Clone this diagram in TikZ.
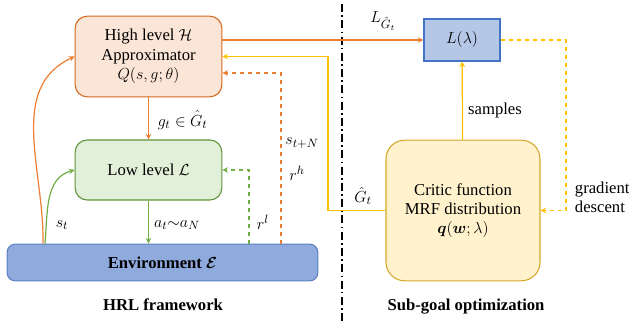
\documentclass[tikz,border=0pt]{standalone}
\usepackage{fontspec}
\setmainfont{Liberation Serif}
\usepackage{bm}
\usetikzlibrary{positioning,arrows}
\definecolor{hiFill}{HTML}{FBE5D6}
\definecolor{hiLine}{HTML}{D2691E}
\definecolor{orLine}{HTML}{ED7D31}
\definecolor{loFill}{HTML}{E2F0D9}
\definecolor{grLine}{HTML}{70AD47}
\definecolor{envFill}{HTML}{8FAADC}
\definecolor{envLine}{HTML}{5B7FC0}
\definecolor{lamFill}{HTML}{B4C7E7}
\definecolor{lamLine}{HTML}{4472C4}
\definecolor{crFill}{HTML}{FFF2CC}
\definecolor{crLine}{HTML}{D4A72C}
\definecolor{yeLine}{HTML}{FFC000}

\begin{document}
\begin{tikzpicture}[x=0.75pt,y=-0.75pt,
    ->,
    >=stealth,
    font=\fontsize{12.5}{14.5}\selectfont,
    bb/.style={%
      rectangle, thick, align=center, inner sep=2pt
    },
    lbl/.style={%
      draw=none, inner sep=0.5pt
    },
    conn/.style={line width=0.9pt}
]
    \useasboundingbox (0,0) rectangle (629,324);

    % HRL side
    \node[bb, draw=hiLine, fill=hiFill, rounded corners=9pt,
          minimum width=110pt, minimum height=60.5pt] (1) at (148.5,56.5)
          {High level $\mathcal{H}$\\Approximator\\$Q(s,g;\theta)$};
    \node[bb, draw=grLine!85!black, fill=loFill, rounded corners=9pt,
          minimum width=110pt, minimum height=45pt] (2) at (148.5,170)
          {Low level $\mathcal{L}$};
    \node[bb, draw=envLine, fill=envFill, rounded corners=6pt,
          minimum width=233pt, minimum height=27.5pt] (3) at (162.5,262.5)
          {\textbf{Environment} $\bm{\mathcal{E}}$};

    % optimization side
    \node[bb, draw=lamLine, fill=lamFill,
          minimum width=57pt, minimum height=31.5pt] (4) at (462,40)
          {$L(\lambda)$};
    \node[bb, draw=crLine, fill=crFill, rounded corners=14pt,
          minimum width=115.5pt, minimum height=105.5pt] (5) at (463,210.5)
          {Critic function\\MRF distribution\\$\bm{q}(\bm{w};\lambda)$};

    \coordinate (gx) at (328,0);
    \coordinate (rh) at (281,0);
    \coordinate (rl) at (249,0);
    \coordinate (st) at (45,0);
    \coordinate (sh) at (43,0);
    \coordinate (gd) at (566,0);

    % separator
    \draw[-, line width=1.4pt, dash pattern=on 6pt off 2.5pt on 1.2pt off 2.5pt]
      (342,4) -- (342,324);

    \path[conn]
          (1.east |- 4.west) edge[orLine] (4.west)
          (1) edge[orLine] (2)
          (2.south) edge[grLine] (2.south |- 3.north)
          (5) edge[yeLine] (4)
    ;
    \draw[conn, yeLine] (5.west) -- (5.west -| gx) -- (gx |- 1.east) -- (1.east);
    \draw[conn, orLine, dashed] (3.north -| rh) |- ([yshift=-12.4pt]1.east);
    \draw[conn, grLine, dashed] (3.north -| rl) |- (2.east);
    \draw[conn, yeLine, dashed] (4.east) -- (4.east -| gd) -- (gd |- 5.east) -- (5.east);
    \draw[conn, grLine] (3.north -| st) to[out=85, in=195] (2.west);
    \draw[conn, orLine] (3.north -| sh) to[out=89, in=205] (1.west);

    % labels
    \node[lbl] (l1) at (383,21) {$L_{\hat{G}_t}$};
    \node[lbl, anchor=west] (l2) at (157,120) {$g_t\in\hat{G}_t$};
    \node[lbl] (l3) at (177,225) {$a_t{\sim}a_N$};
    \node[lbl] (l4) at (62,225) {$s_t$};
    \node[lbl] (l5) at (263,222) {$r^l$};
    \node[lbl] (l6) at (297,173) {$r^h$};
    \node[lbl] (l7) at (302,143) {$s_{t+N}$};
    \node[lbl] (l8) at (363,196) {$\hat{G}_t$};
    \node[lbl] (l9) at (495,110) {samples};
    \node[lbl, anchor=west, align=left] (l10) at (574,197) {gradient\\descent};
    \node[lbl] (c1) at (163,305) {\textbf{HRL framework}};
    \node[lbl] (c2) at (466,307) {\textbf{Sub-goal optimization}};

\end{tikzpicture}
\end{document}
